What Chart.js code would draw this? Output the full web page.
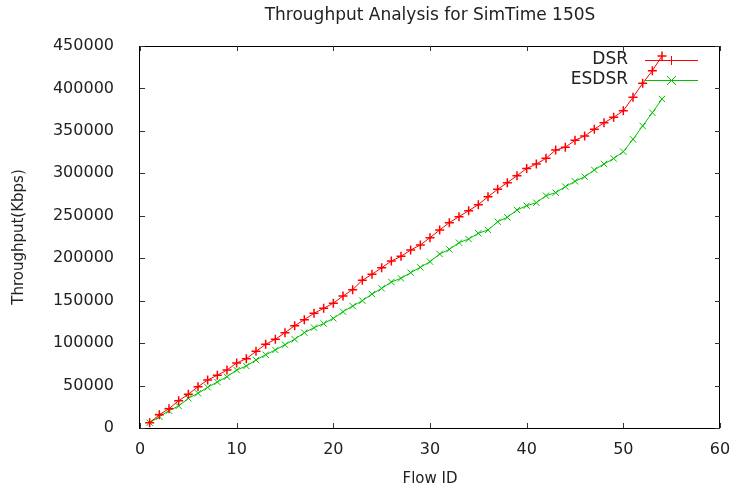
<!DOCTYPE html>
<html>
<head>
<meta charset="utf-8">
<script src="https://cdn.jsdelivr.net/npm/chart.js@4.4.1/dist/chart.umd.min.js"></script>
<style>
html,body{margin:0;padding:0;background:#fff;}
#wrap{width:731px;height:488px;}
</style>
</head>
<body>
<div id="wrap"><canvas id="c" width="731" height="488"></canvas></div>
<script>
const flowIds = [];
for (let i = 1; i <= 54; i++) flowIds.push(i);
const dsrValues = [6200,15700,22700,32200,39700,48700,56500,62100,68300,76600,
  81600,90300,98600,104500,112300,120500,127600,135100,141000,147000,
  155500,163000,174000,181100,188800,196700,202200,209700,215600,224200,
  233300,241900,249000,256000,263100,272500,281200,289000,297300,305700,
  311000,317700,327500,330700,338900,344000,351900,359600,366000,373800,
  389600,406000,420900,438200];
const esdsrValues = [6200,13300,20400,25900,35000,40900,47900,54200,60400,68300,
  73000,80100,86300,91900,98100,104500,112300,118200,123000,129200,
  137000,143700,150000,157800,164500,172000,176300,183000,189300,196000,
  205000,210500,218300,222600,229400,233300,243000,248200,256800,261900,
  265400,273700,277200,284300,290600,296000,304000,311000,317500,325500,
  340100,355800,371400,387600];
const xTicks = [0,10,20,30,40,50,60];
const yTicks = [0,50000,100000,150000,200000,250000,300000,350000,400000,450000];
const titleText = 'Throughput Analysis for SimTime 150S';
const xLabel = 'Flow ID';
const yLabel = 'Throughput(Kbps)';

const FONT = '"DejaVu Sans", Verdana, sans-serif';
const TXT = '#222';

const framePlugin = {
  id: 'frame',
  afterDatasetsDraw(chart) {
    const {ctx, chartArea: a, scales: {x, y}} = chart;
    ctx.save();
    ctx.strokeStyle = '#000';
    ctx.lineWidth = 1;
    ctx.strokeRect(Math.round(a.left) - 0.5, Math.round(a.top) + 0.5,
                   Math.round(a.right - a.left), Math.round(a.bottom - a.top));
    ctx.strokeStyle = '#333';
    ctx.beginPath();
    xTicks.forEach(v => {
      const px = Math.round(x.getPixelForValue(v)) + 0.5;
      ctx.moveTo(px, a.bottom); ctx.lineTo(px, a.bottom - 5);
      ctx.moveTo(px, a.top); ctx.lineTo(px, a.top + 5);
    });
    yTicks.forEach(v => {
      const py = Math.round(y.getPixelForValue(v)) + 0.5;
      ctx.moveTo(a.left, py); ctx.lineTo(a.left + 5, py);
      ctx.moveTo(a.right, py); ctx.lineTo(a.right - 5, py);
    });
    ctx.stroke();
    // title
    ctx.fillStyle = TXT;
    ctx.font = '17px ' + FONT;
    ctx.textAlign = 'center';
    ctx.textBaseline = 'middle';
    ctx.fillText(titleText, (a.left + a.right) / 2, 16);
    // legend
    ctx.font = '17px ' + FONT;
    ctx.textAlign = 'right';
    chart.data.datasets.forEach((ds, i) => {
      const ly = 60 + i * 20;
      ctx.fillStyle = TXT;
      ctx.fillText(ds.label, 628, ly);
      ctx.strokeStyle = ds.borderColor;
      ctx.lineWidth = 1;
      ctx.beginPath();
      ctx.moveTo(645, ly + 0.5); ctx.lineTo(698, ly + 0.5);
      ctx.stroke();
      ctx.beginPath();
      if (ds.pointStyle === 'cross') {
        ctx.moveTo(671.5, ly - 4); ctx.lineTo(671.5, ly + 5);
        ctx.moveTo(667, ly + 0.5); ctx.lineTo(676, ly + 0.5);
      } else {
        ctx.moveTo(667, ly - 4); ctx.lineTo(676, ly + 5);
        ctx.moveTo(667, ly + 5); ctx.lineTo(676, ly - 4);
      }
      ctx.stroke();
    });
    ctx.restore();
  }
};

new Chart(document.getElementById('c'), {
  type: 'line',
  data: {
    datasets: [
      {
        label: 'DSR',
        data: flowIds.map((f, i) => ({x: f, y: dsrValues[i]})),
        borderColor: '#ff0000',
        backgroundColor: '#ff0000',
        borderWidth: 1,
        pointStyle: 'cross',
        pointRadius: 4.5,
        pointBorderWidth: 1.5,
        tension: 0
      },
      {
        label: 'ESDSR',
        data: flowIds.map((f, i) => ({x: f, y: esdsrValues[i]})),
        borderColor: '#00c000',
        backgroundColor: '#00c000',
        borderWidth: 1,
        pointStyle: 'crossRot',
        pointRadius: 4.5,
        pointBorderWidth: 1,
        tension: 0
      }
    ]
  },
  options: {
    responsive: false,
    animation: false,
    layout: {padding: {top: 46, right: 11, left: 0, bottom: 0}},
    plugins: {legend: {display: false}, title: {display: false}, tooltip: {enabled: false}},
    scales: {
      x: {
        type: 'linear', min: 0, max: 60,
        afterBuildTicks: s => { s.ticks = xTicks.map(v => ({value: v})); },
        afterFit: s => { s.height = 60; s.paddingLeft = 0; s.paddingRight = 0; },
        grid: {display: false},
        border: {display: false},
        ticks: {color: TXT, font: {family: FONT, size: 16}, padding: 4, maxRotation: 0},
        title: {display: true, text: xLabel, color: TXT, font: {family: FONT, size: 15}, padding: {top: 0, bottom: 0}}
      },
      y: {
        type: 'linear', min: 0, max: 450000,
        afterBuildTicks: s => { s.ticks = yTicks.map(v => ({value: v})); },
        afterFit: s => { s.width = 140; s.paddingTop = 0; s.paddingBottom = 0; },
        grid: {display: false},
        border: {display: false},
        ticks: {color: TXT, font: {family: FONT, size: 16}, padding: 18, callback: v => String(v)},
        title: {display: true, text: yLabel, color: TXT, font: {family: FONT, size: 15}, padding: {top: 10, bottom: 0}}
      }
    }
  },
  plugins: [framePlugin]
});
</script>
</body>
</html>
